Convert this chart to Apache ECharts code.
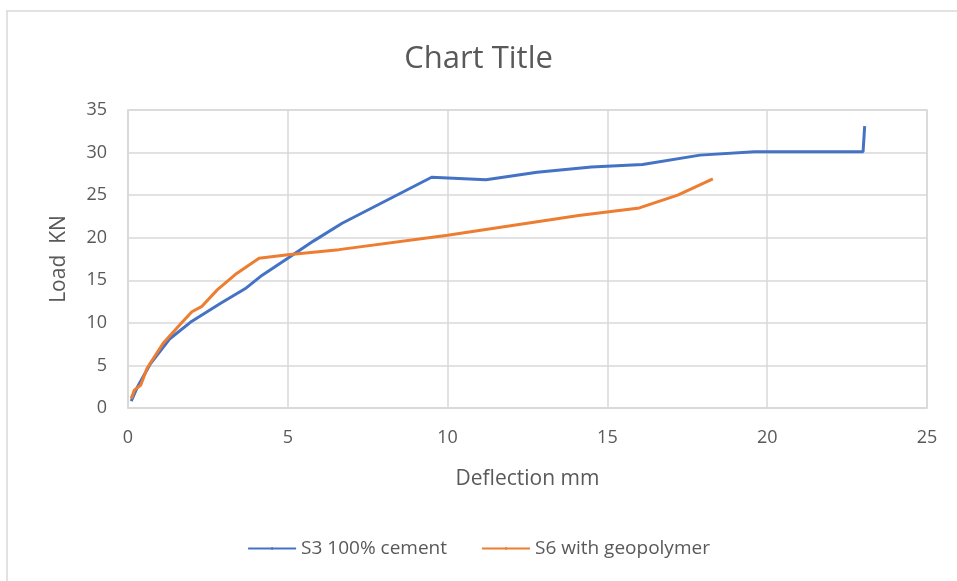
<!DOCTYPE html>
<html>
<head>
<meta charset="utf-8">
<title>Chart Title</title>
<script src="https://cdn.jsdelivr.net/npm/echarts@6/dist/echarts.min.js"></script>
<style>
  html, body { margin: 0; padding: 0; background: #fff; }
  #chart { width: 957px; height: 581px; }
</style>
</head>
<body>
<div id="chart"></div>
<script>
// S3 100% cement
var s3X = [0.1, 0.3, 0.7, 1.3, 2.0, 2.9, 3.7, 4.2, 5.0, 5.8, 6.7, 8.1, 9.5, 11.2, 12.8, 14.5, 16.1, 17.9, 19.6, 23.0, 23.05];
var s3Y = [0.8, 2.5, 5.2, 8.1, 10.2, 12.3, 14.1, 15.6, 17.6, 19.6, 21.7, 24.4, 27.1, 26.8, 27.7, 28.3, 28.6, 29.7, 30.1, 30.1, 33.1];
// S6 with geopolymer
var s6X = [0.1, 0.2, 0.4, 0.6, 1.1, 1.7, 2.0, 2.3, 2.8, 3.4, 4.1, 5.0, 6.6, 10.0, 14.1, 16.0, 17.2, 18.3];
var s6Y = [1.1, 2.1, 2.7, 4.7, 7.6, 10.1, 11.3, 11.9, 13.9, 15.8, 17.6, 18.0, 18.6, 20.3, 22.6, 23.5, 25.0, 26.9];

var seriesNames = ['S3 100% cement', 'S6 with geopolymer'];

function pairs(xs, ys) {
  var out = [];
  for (var i = 0; i < xs.length; i++) {
    out.push([xs[i], ys[i]]);
  }
  return out;
}

var font = 'Open Sans';
var chart = echarts.init(document.getElementById('chart'));

var options = {
  color: ['#4472C4', '#ED7D31'],
  title: {
    text: 'Chart Title',
    left: 'center',
    top: 39,
    textStyle: { fontFamily: font, fontSize: 31, fontWeight: 'normal', color: '#595959' }
  },
  graphic: [{
    type: 'rect',
    shape: { x: 7, y: 11, width: 970, height: 600 },
    style: { fill: 'none', stroke: '#d9d9d9', lineWidth: 1.5 },
    silent: true
  }],
  legend: {
    bottom: 18,
    left: 'center',
    itemWidth: 48,
    itemHeight: 3,
    itemGap: 34,
    data: seriesNames,
    textStyle: { fontFamily: font, fontSize: 19, color: '#595959' }
  },
  grid: {
    left: 128,
    right: 30,
    top: 110,
    bottom: 173,
    show: true,
    borderColor: '#d9d9d9',
    borderWidth: 1.5
  },
  xAxis: {
    type: 'value',
    min: 0,
    max: 25,
    interval: 5,
    name: 'Deflection mm',
    nameLocation: 'middle',
    nameGap: 61,
    nameTextStyle: { fontFamily: font, fontSize: 21, color: '#595959' },
    axisLine: { lineStyle: { color: '#d9d9d9', width: 1.5 } },
    axisTick: { show: false },
    axisLabel: { fontFamily: font, fontSize: 18, color: '#595959', margin: 21 },
    splitLine: { lineStyle: { color: '#d9d9d9', width: 1.5 } }
  },
  yAxis: {
    type: 'value',
    min: 0,
    max: 35,
    interval: 5,
    name: 'Load  KN',
    nameLocation: 'middle',
    nameGap: 58,
    nameTextStyle: { fontFamily: font, fontSize: 21, color: '#595959' },
    axisLine: { show: true, lineStyle: { color: '#d9d9d9', width: 1.5 } },
    axisTick: { show: false },
    axisLabel: { fontFamily: font, fontSize: 18, color: '#595959', margin: 21 },
    splitLine: { lineStyle: { color: '#d9d9d9', width: 1.5 } }
  },
  series: [
    {
      name: seriesNames[0],
      type: 'line',
      symbol: 'none',
      lineStyle: { width: 3 },
      data: pairs(s3X, s3Y)
    },
    {
      name: seriesNames[1],
      type: 'line',
      symbol: 'none',
      lineStyle: { width: 3 },
      data: pairs(s6X, s6Y)
    }
  ]
};

chart.setOption(options);
</script>
</body>
</html>
